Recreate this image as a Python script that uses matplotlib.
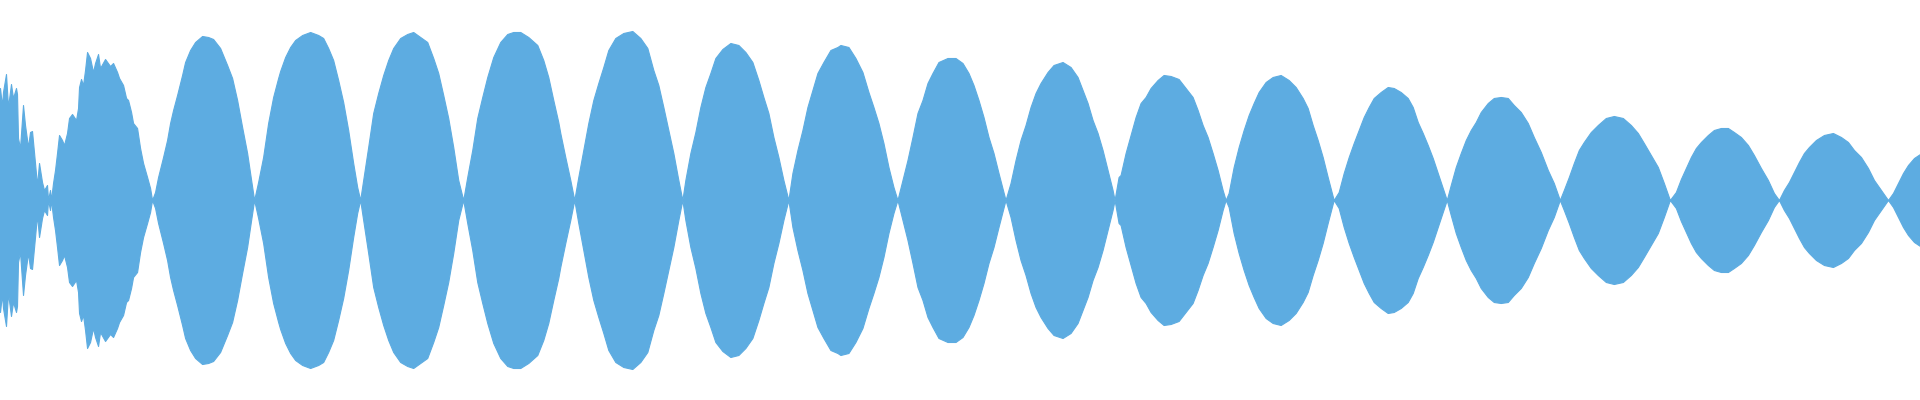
# Waveform envelope of a decaying beat signal.
import matplotlib
matplotlib.use("Agg")
import matplotlib.pyplot as plt
import numpy as np

# time in ms, level in % of full scale (peak envelope, mirrored below zero)
time_ms = [
    0, 2, 3, 6, 8, 11, 13, 16, 17, 18, 20, 23, 25, 28, 30, 32, 35, 37, 39, 42, 44, 47, 48, 50, 51,
    53, 55, 57, 59, 62, 64, 67, 69, 72, 76, 78, 79, 81, 83, 85, 87, 90, 93, 95, 98, 100, 105, 110,
    113, 117, 119, 123, 126, 128, 131, 133, 137, 140, 143, 147, 150, 152,
    155, 158, 163, 167, 170, 173, 177, 182, 185, 190, 195, 202, 208, 213, 220, 227, 232, 237, 242,
    247, 251, 254,
    258, 263, 268, 273, 278, 280, 285, 290, 295, 302, 310, 318, 323, 328, 333, 338, 343, 348, 353,
    357, 360,
    363, 368, 373, 378, 383, 388, 393, 400, 407, 413, 420, 427, 433, 438, 443, 448, 453, 458, 463,
    467, 472, 477, 482, 487, 493, 500, 507, 513, 520, 528, 537, 543, 548, 553, 558, 560, 565, 570, 574,
    578, 583, 588, 593, 598, 603, 608, 615, 623, 632, 640, 647, 653, 658, 663, 668, 673, 678, 682,
    685, 690, 695, 700, 705, 710, 715, 722, 730, 738, 745, 752, 758, 763, 768, 773, 778, 783, 788,
    792, 797, 802, 807, 812, 817, 823, 830, 837, 840, 848, 855, 862, 868, 873, 878, 883, 888, 893, 897,
    902, 907, 912, 917, 922, 927, 932, 938, 947, 955, 962, 968, 973, 978, 983, 988, 993, 998, 1005,
    1010, 1015, 1020, 1025, 1030, 1035, 1040, 1047, 1053, 1062, 1070, 1077, 1082, 1087, 1092, 1097,
    1102, 1107, 1112, 1114,
    1118, 1120, 1125, 1130, 1135, 1140, 1145, 1150, 1157, 1163, 1170, 1178, 1185, 1192, 1197, 1202,
    1207, 1212, 1217, 1222, 1225,
    1228, 1233, 1238, 1243, 1248, 1253, 1258, 1265, 1272, 1280, 1288, 1295, 1302, 1307, 1312, 1317,
    1322, 1327, 1333,
    1338, 1343, 1348, 1353, 1358, 1363, 1368, 1373, 1380, 1387, 1393, 1400, 1407, 1412, 1417, 1422,
    1427, 1432, 1437, 1442, 1446,
    1450, 1455, 1460, 1465, 1470, 1475, 1480, 1487, 1493, 1500, 1507, 1513, 1520, 1527, 1533, 1540,
    1547, 1553, 1559,
    1563, 1568, 1573, 1578, 1583, 1590, 1597, 1605, 1613, 1622, 1630, 1637, 1643, 1650, 1657, 1663, 1669,
    1675, 1680, 1685, 1690, 1695, 1700, 1707, 1713, 1720, 1727, 1733, 1740, 1747, 1753, 1760, 1767,
    1773, 1778,
    1783, 1788, 1793, 1798, 1803, 1808, 1815, 1823, 1832, 1840, 1847, 1853, 1860, 1867, 1873, 1880, 1887,
    1892, 1897, 1902, 1907, 1913, 1919,
]

level = [
    56, 47, 54, 63, 46.5, 58, 51, 56, 53, 31, 26, 47.5, 37.5, 26.5, 34, 34.5, 18.5, 7.5, 18.5, 9, 5, 7.5, 0, 5, 0,
    8.5, 15, 23.5, 32.5, 30, 27.5, 33.5, 41, 43, 40, 46, 56.5, 60.5, 57.5, 65, 74, 71, 64, 68.5, 73, 66, 70.5, 67,
    68.5, 64, 61, 57.5, 51, 50, 44, 38.5, 36, 26, 18.5, 11.5, 6, 0,
    4, 11.5, 21.5, 30, 38.5, 45, 52.5, 62.5, 69, 75, 79, 82, 81.5, 80.5, 76, 67.5, 61, 50, 36.5,
    23.5, 10, 0,
    9, 21.5, 38.5, 51.5, 61, 64.5, 71.5, 76.5, 80, 82.5, 84, 82.5, 81, 76, 70, 60, 49, 35, 18.5,
    6.5, 0,
    10, 26.5, 43.5, 53.5, 62.5, 70, 76, 81, 83, 84, 81.5, 79, 71, 63.5, 52.5, 41, 26.5, 10, 0,
    11.5, 25, 41, 51.5, 61.5, 71.5, 79, 83, 84, 84, 81.5, 77.5, 70, 61.5, 50, 39, 33.5, 21.5, 10, 0,
    11.5, 25, 38.5, 50, 58.5, 66.5, 75, 81, 83.5, 84.5, 81, 76, 65, 57.5, 46.5, 35, 23.5, 10, 0,
    10, 23.5, 34, 46.5, 56.5, 63.5, 71, 75.5, 78.5, 77.5, 74, 69, 60, 51.5, 43.5, 31.5, 21.5, 10, 0,
    13.5, 25, 35, 46.5, 55, 63.5, 69, 75, 76.5, 77.5, 76.5, 71, 64, 54, 46.5, 38.5, 28.5, 16.5, 6.5, 0,
    10, 20, 31.5, 43.5, 50, 58.5, 63.5, 69, 71, 71, 68.5, 63.5, 57.5, 50, 41.5, 31.5, 23.5, 13.5, 0,
    8.5, 20, 30, 37.5, 46.5, 53.5, 58.5, 64, 67.5, 69, 66.5, 61.5, 55, 48.5, 40, 33.5,
    25, 15, 5, 0,
    11.5, 12.5, 23.5, 32.5, 41.5, 48.5, 51.5, 56, 60, 62.5, 62, 60.5, 56, 51.5, 45, 37.5,
    31.5, 23.5, 15, 5, 0,
    3.5, 16.5, 26.5, 35, 42.5, 48.5, 54, 59, 61.5, 62.5, 60, 56.5, 51, 46, 37.5, 30,
    21.5, 11.5, 0,
    4, 13.5, 21.5, 28.5, 35, 41.5, 46.5, 51, 54, 56.5, 56, 54, 51, 46.5, 39, 33.5,
    27.5, 21, 13.5, 6, 0,
    7.5, 16.5, 23.5, 30, 35, 39, 44, 48.5, 51, 51.5, 51, 47.5, 44, 38.5, 31.5, 24,
    15, 8.5, 0,
    5, 11.5, 18.5, 25, 29, 34, 37.5, 41, 42, 41, 37.5, 33.5, 28.5, 22.5, 16.5, 8.5, 0,
    4, 10.5, 16, 21.5, 26, 29, 32.5, 35, 36, 36, 34, 31.5, 27.5, 22.5, 16, 10,
    3.5, 0,
    5, 9, 14, 19, 23.5, 26.5, 30, 32.5, 33.5, 31.5, 29, 25, 21.5, 16, 10, 5, 0,
    3.5, 8.5, 13.5, 17.5, 21, 23,
]

t = np.array(time_ms)
env = np.array(level)

fig = plt.figure(figsize=(19.2, 4), dpi=100)
ax = fig.add_axes([0, 0, 1, 1])
ax.fill_between(t, -env, env, color="#5DACE1", linewidth=0.8, edgecolor="#5DACE1")
ax.plot(t, np.zeros_like(t), color="#5DACE1", linewidth=1.0)

ax.set_xlim(0, 1919)
ax.set_ylim(-100, 100)
ax.axis("off")

fig.savefig("out.png", dpi=100, facecolor="white")
